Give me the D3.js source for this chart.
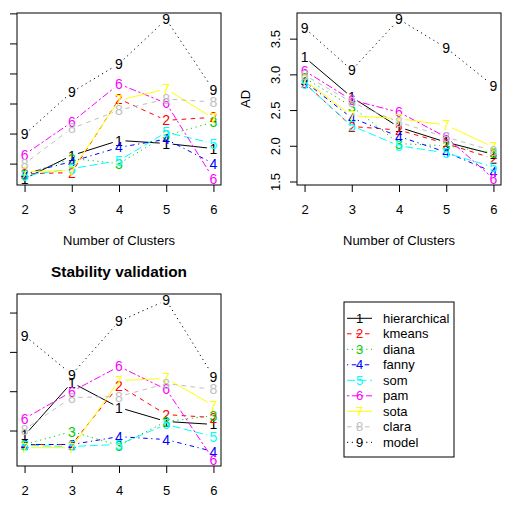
<!DOCTYPE html>
<html><head><meta charset="utf-8">
<script src="https://cdn.jsdelivr.net/npm/d3@7"></script>
<style>
body{margin:0;background:#fff}
svg{display:block}
text{font-family:"Liberation Sans",Arial,Helvetica,sans-serif}
</style>
</head><body>
<svg id="c" width="506" height="506"></svg>
<script>
// ---- data ----
const clusters = [2, 3, 4, 5, 6];
const methods = ["hierarchical","kmeans","diana","fanny","som","pam","sota","clara","model"];
const symbols = ["1","2","3","4","5","6","7","8","9"];

// top-left panel (axis labels outside the visible area)
const apnValues = [
  [0.050, 0.127, 0.177, 0.167, 0.150],
  [0.066, 0.070, 0.315, 0.244, 0.254],
  [0.063, 0.117, 0.100, 0.194, 0.238],
  [0.066, 0.107, 0.154, 0.181, 0.100],
  [0.060, 0.083, 0.110, 0.204, 0.167],
  [0.130, 0.238, 0.365, 0.301, 0.050],
  [0.073, 0.077, 0.311, 0.348, 0.251],
  [0.100, 0.217, 0.278, 0.315, 0.305],
  [0.197, 0.338, 0.432, 0.580, 0.345]
];
// top-right panel: AD
const adValues = [
  [3.24, 2.68, 2.26, 2.05, 1.88],
  [2.88, 2.27, 2.22, 2.03, 1.82],
  [2.95, 2.55, 2.03, 2.00, 1.90],
  [2.90, 2.39, 2.13, 1.91, 1.63],
  [2.87, 2.28, 2.00, 1.90, 1.70],
  [3.05, 2.64, 2.47, 2.12, 1.54],
  [2.92, 2.42, 2.38, 2.29, 1.98],
  [2.99, 2.61, 2.33, 2.12, 1.93],
  [3.65, 3.06, 3.77, 3.37, 2.84]
];
// bottom-left panel: Stability validation
const admValues = [
  [0.175, 0.444, 0.317, 0.246, 0.231],
  [0.129, 0.129, 0.429, 0.281, 0.266],
  [0.129, 0.195, 0.124, 0.246, 0.276],
  [0.129, 0.129, 0.169, 0.154, 0.093],
  [0.124, 0.119, 0.129, 0.231, 0.169],
  [0.261, 0.398, 0.526, 0.409, 0.052],
  [0.113, 0.113, 0.454, 0.465, 0.327],
  [0.205, 0.368, 0.373, 0.439, 0.409],
  [0.683, 0.485, 0.755, 0.862, 0.475]
];
const apnTicks = [0.1, 0.2, 0.3, 0.4, 0.5, 0.6];
const adTicks = [1.5, 2.0, 2.5, 3.0, 3.5];
const admTicks = [0.2, 0.4, 0.6, 0.8];
const adTickLabels = ["1.5", "2.0", "2.5", "3.0", "3.5"];

// ---- styles ----
const colors = ["#000000","#FF0000","#00CD00","#0000FF","#00FFFF","#FF00FF","#FFFF00","#BEBEBE","#000000"];
const dashes = [null,"4.5,4.5","1.2,3.6","1.2,3.6,4.5,3.6","8,3.6","2.4,2.4,7,2.4",null,"4.5,4.5","1.2,3.6"];
const FS = 13;
const PFS = 14;

const svg = d3.select("#c");

function panel(box, values, yTicks, opt) {
  const g = svg.append("g");
  const x = d3.scaleLinear().domain([2 - 0.16, 6 + 0.16]).range([box.x0, box.x1]);
  const ext = d3.extent(values.flat());
  const r = ext[1] - ext[0];
  const y = d3.scaleLinear().domain([ext[0] - 0.04 * r, ext[1] + 0.04 * r]).range([box.y1, box.y0]);
  const gap = 6.5;

  values.forEach((vals, s) => {
    const pts = vals.map((v, i) => [x(clusters[i]), y(v)]);
    const sg = g.append("g");
    for (let i = 0; i < pts.length - 1; i++) {
      const p = pts[i], q = pts[i + 1];
      const dx = q[0] - p[0], dy = q[1] - p[1];
      const len = Math.hypot(dx, dy);
      if (len <= 2 * gap) continue;
      const ux = dx / len, uy = dy / len;
      const ln = sg.append("line")
        .attr("x1", p[0] + ux * gap).attr("y1", p[1] + uy * gap)
        .attr("x2", q[0] - ux * gap).attr("y2", q[1] - uy * gap)
        .attr("stroke", colors[s]).attr("stroke-width", 1).attr("fill", "none");
      if (dashes[s]) ln.attr("stroke-dasharray", dashes[s]);
    }
    sg.selectAll("text.pt").data(pts).join("text")
      .attr("class", "pt")
      .attr("x", d => d[0]).attr("y", d => d[1] + 0.36 * PFS)
      .attr("text-anchor", "middle").attr("font-size", PFS)
      .attr("fill", colors[s]).text(symbols[s]);
  });

  // box
  g.append("rect").attr("x", box.x0).attr("y", box.y0)
    .attr("width", box.x1 - box.x0).attr("height", box.y1 - box.y0)
    .attr("fill", "none").attr("stroke", "#000").attr("stroke-width", 1);

  // x axis
  const xa = g.append("g").attr("transform", `translate(0,${box.y1})`)
    .call(d3.axisBottom(x).tickValues(clusters).tickFormat(d3.format("d"))
      .tickSize(7).tickSizeOuter(0).tickPadding(12.5));
  xa.select(".domain").remove();
  xa.selectAll("text").attr("font-size", FS).attr("fill", "#000")
    .attr("font-family", '"Liberation Sans",Arial,sans-serif');
  xa.selectAll("line").attr("stroke", "#000");

  // y axis
  const ya = g.append("g").attr("transform", `translate(${box.x0},0)`)
    .call(d3.axisLeft(y).tickValues(yTicks).tickSize(7).tickSizeOuter(0)
      .tickFormat((d, i) => opt.yLabels ? opt.yLabels[i] : ""));
  ya.select(".domain").remove();
  ya.selectAll("line").attr("stroke", "#000");
  ya.selectAll("text").attr("x", null).attr("dy", null)
    .attr("transform", "translate(-17.5,0) rotate(-90)")
    .attr("text-anchor", "middle").attr("font-size", FS).attr("fill", "#000")
    .attr("font-family", '"Liberation Sans",Arial,sans-serif');

  const cx = (box.x0 + box.x1) / 2;
  if (opt.xTitle) {
    g.append("text").attr("x", cx).attr("y", box.y1 + 59.7)
      .attr("text-anchor", "middle").attr("font-size", FS).text(opt.xTitle);
  }
  if (opt.yTitle) {
    const yc = (box.y0 + box.y1) / 2;
    g.append("text").attr("transform", `translate(${box.x0 - 47},${yc}) rotate(-90)`)
      .attr("text-anchor", "middle").attr("font-size", FS).text(opt.yTitle);
  }
  if (opt.title) {
    g.append("text").attr("x", cx).attr("y", box.y0 - 17.5)
      .attr("text-anchor", "middle").attr("font-size", 15.4)
      .attr("font-weight", "bold").text(opt.title);
  }
}

panel({x0: 17, x1: 221, y0: 13, y1: 185}, apnValues, apnTicks, {xTitle: "Number of Clusters"});
panel({x0: 297, x1: 501, y0: 13, y1: 185}, adValues, adTicks, {xTitle: "Number of Clusters", yTitle: "AD", yLabels: adTickLabels});
panel({x0: 17, x1: 221, y0: 294, y1: 466}, admValues, admTicks, {title: "Stability validation"});

// legend
const lg = svg.append("g");
const L = {x0: 344, y0: 302, w: 110, h: 155, row0: 318.3, step: 15.5};
lg.append("rect").attr("x", L.x0).attr("y", L.y0).attr("width", L.w).attr("height", L.h)
  .attr("fill", "none").attr("stroke", "#000").attr("stroke-width", 1);
methods.forEach((m, s) => {
  const yy = L.row0 + s * L.step;
  const ln = lg.append("line").attr("x1", L.x0 + 3).attr("x2", L.x0 + 28)
    .attr("y1", yy).attr("y2", yy).attr("stroke", colors[s]).attr("stroke-width", 1);
  if (dashes[s]) ln.attr("stroke-dasharray", dashes[s]);
  lg.append("text").attr("x", L.x0 + 15.5).attr("y", yy + 0.36 * FS)
    .attr("text-anchor", "middle").attr("font-size", FS).attr("fill", colors[s]).text(symbols[s]);
  lg.append("text").attr("x", L.x0 + 39).attr("y", yy + 0.36 * FS)
    .attr("font-size", FS).attr("fill", "#000").text(m);
});
</script>
</body></html>
